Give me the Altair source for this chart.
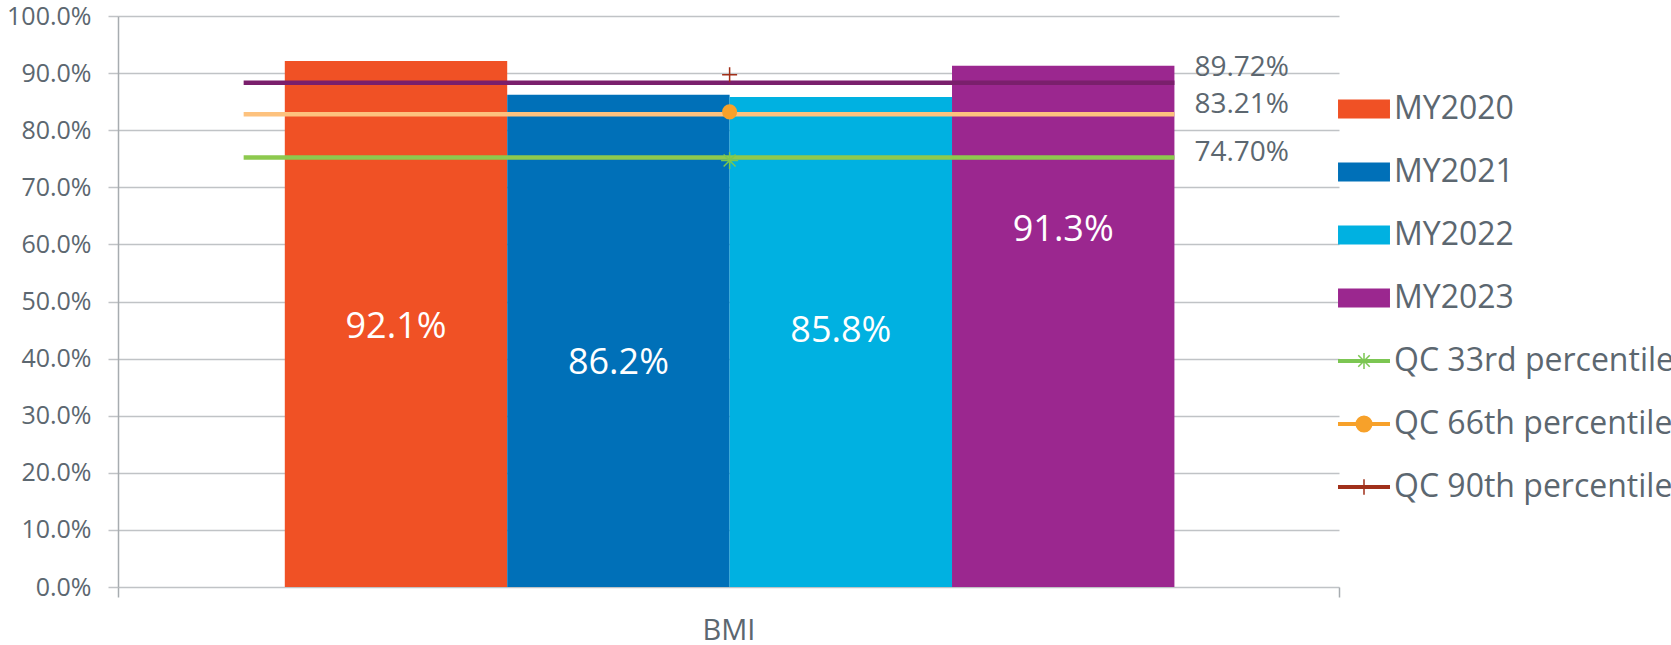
import altair as alt
import pandas as pd

# Measurement-year rates for the BMI measure
series = ["MY2020", "MY2021", "MY2022", "MY2023"]
rates = [0.921, 0.862, 0.858, 0.913]
bar_colors = ["#F05125", "#0070B8", "#00B1E1", "#9B278F"]
# height of each value label, as a share of its bar
label_share = [0.494, 0.456, 0.522, 0.684]

# Quality Compass benchmarks
benchmarks = ["QC 33rd percentile", "QC 66th percentile", "QC 90th percentile"]
benchmark_rates = [0.7470, 0.8321, 0.8972]
marker_colors = ["#7AC751", "#F7A12A", "#A12F18"]
legend_line_colors = ["#7CC653", "#F7A12A", "#A0301A"]

# reference bands drawn across the bars
band_levels = [0.752, 0.828, 0.883]
band_colors = ["#8DC94E", "#FDC27E", "#7A1F6C"]

measure = "BMI"
y_ticks = [i / 10 for i in range(11)]

FONT = "Open Sans"
TEXT = "#5C6770"
GRID = "#C0C3C6"
AXIS = "#A7ACB0"

# x runs in bar-width units: bar k covers [k, k+1]
x_domain = [-0.75, 4.74]
band_span = (-0.185, 4.0)
centre = len(series) / 2

x_scale = alt.Scale(domain=x_domain, nice=False, zero=False)
y_scale = alt.Scale(domain=[0, 1], nice=False)

x_axis = alt.Axis(
    values=x_domain,
    labels=False,
    grid=False,
    domain=False,
    tickSize=10,
    tickWidth=1.5,
    tickColor=AXIS,
    title=measure,
    titleFont=FONT,
    titleFontSize=29,
    titleFontWeight="normal",
    titleColor=TEXT,
    titlePadding=19,
)

y_axis = alt.Axis(
    values=y_ticks,
    format=".1%",
    title=None,
    labelFont=FONT,
    labelFontSize=25,
    labelColor=TEXT,
    labelPadding=17,
    tickSize=10,
    tickWidth=1.5,
    tickColor=GRID,
    gridColor=GRID,
    gridWidth=1.5,
    domainColor=AXIS,
    domainWidth=1.5,
)


def xq(field):
    return alt.X(field, type="quantitative", scale=x_scale, axis=x_axis)


def yq(field):
    return alt.Y(field, type="quantitative", scale=y_scale, axis=y_axis)


# marker glyphs (unit square paths)
PLUS = "M-1,0H1M0,-1V1"
STAR = "M-1,0H1M0,-1V1M-0.7,-0.7L0.7,0.7M-0.7,0.7L0.7,-0.7"
marker_specs = [
    dict(shape=STAR, size=289, filled=False),
    dict(shape="circle", size=227, filled=True),
    dict(shape=PLUS, size=225, filled=False),
]

# legend glyphs: swatches for the bars, line + marker for the benchmarks
SWATCH = "M-0.97,-0.34H0.97V0.34H-0.97Z"
LINE = "M-0.97,-0.05H0.97V0.05H-0.97Z"
legend_paths = [SWATCH] * len(series) + [
    LINE + "M0,-0.31V0.31M-0.22,-0.22L0.22,0.22M-0.22,0.22L0.22,-0.22",
    LINE + "M-0.3,0A0.3,0.3 0 1,1 0.3,0A0.3,0.3 0 1,1 -0.3,0Z",
    LINE + "M0,-0.3V0.3",
]
entries = series + benchmarks
entry_colors = bar_colors + legend_line_colors

bars_df = pd.DataFrame({
    "series": series,
    "rate": rates,
    "share": label_share,
    "slot": list(range(len(series))),
})

base = alt.Chart(bars_df).transform_calculate(
    slot_end="datum.slot + 1",
    mid="datum.slot + 0.5",
    label_y="datum.rate * datum.share",
)

bars = base.mark_bar(opacity=1).encode(
    x=xq("slot"),
    x2="slot_end:Q",
    y=yq("rate"),
    y2=alt.datum(0),
    color=alt.Color(
        "series:N",
        scale=alt.Scale(domain=series, range=bar_colors),
        legend=None,
    ),
)

bar_labels = base.mark_text(
    font=FONT, fontSize=36, color="white", align="center", baseline="middle"
).encode(
    x=xq("mid"),
    y=yq("label_y"),
    text=alt.Text("rate:Q", format=".1%"),
)

band_layers = []
for level, colour in zip(band_levels, band_colors):
    band_df = pd.DataFrame({"level": [level], "x0": [band_span[0]], "x1": [band_span[1]]})
    band_layers.append(
        alt.Chart(band_df)
        .mark_rule(color=colour, strokeWidth=4.5)
        .encode(x=xq("x0"), x2="x1:Q", y=yq("level"))
    )

marker_layers = []
for rate, colour, spec in zip(benchmark_rates, marker_colors, marker_specs):
    m_df = pd.DataFrame({"rate": [rate], "pos": [centre]})
    marker_layers.append(
        alt.Chart(m_df)
        .mark_point(
            shape=spec["shape"],
            size=spec["size"],
            filled=spec["filled"],
            color=colour,
            strokeWidth=1.5,
            opacity=1,
        )
        .encode(x=xq("pos"), y=yq("rate"))
    )

bench_df = pd.DataFrame({"rate": benchmark_rates, "pos": [band_span[1]] * len(benchmarks)})
bench_labels = alt.Chart(bench_df).mark_text(
    font=FONT, fontSize=28, color=TEXT, align="left", baseline="middle", dx=20, dy=-7
).encode(
    x=xq("pos"),
    y=yq("rate"),
    text=alt.Text("rate:Q", format=".2%"),
)

legend = alt.Legend(
    title=None,
    orient="none",
    legendX=1219,
    legendY=66,
    direction="vertical",
    symbolSize=2704,
    symbolStrokeWidth=1.5,
    labelFont=FONT,
    labelFontSize=32,
    labelColor=TEXT,
    labelLimit=600,
    labelOffset=3,
    rowPadding=20,
    padding=0,
)

legend_df = pd.DataFrame({"entry": entries})
legend_layer = (
    alt.Chart(legend_df)
    .transform_filter("false")
    .mark_point(filled=True, opacity=1, strokeWidth=1.5)
    .encode(
        fill=alt.Fill("entry:N", scale=alt.Scale(domain=entries, range=entry_colors), legend=legend),
        stroke=alt.Stroke("entry:N", scale=alt.Scale(domain=entries, range=entry_colors), legend=legend),
        shape=alt.Shape("entry:N", scale=alt.Scale(domain=entries, range=legend_paths), legend=legend),
    )
)

chart = (
    alt.layer(bars, *band_layers, *marker_layers, bar_labels, bench_labels, legend_layer)
    .properties(
        width=1221,
        height=571,
        padding={"left": 118, "top": 16, "right": 332, "bottom": 57},
        autosize=alt.AutoSizeParams(type="none"),
        background="white",
    )
    .configure_view(stroke=None)
)

chart.save("out.html", embed_options={"renderer": "svg", "actions": False})
